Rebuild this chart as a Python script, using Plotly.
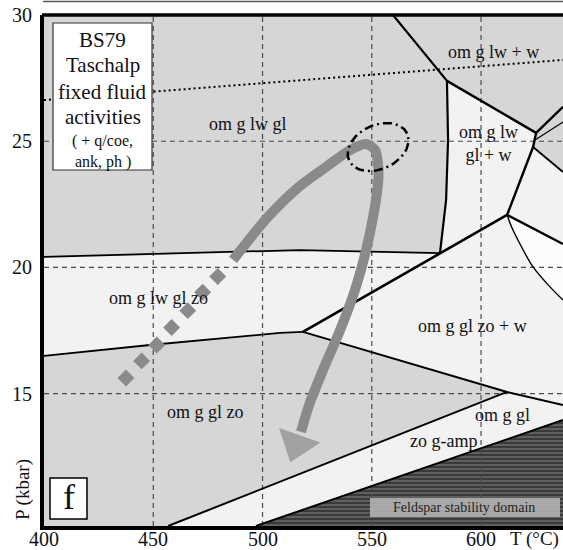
import numpy as np
import plotly.graph_objects as go

FONT = "Liberation Serif, Times New Roman, serif"

# ---------------- axes ----------------
x_ticks = [400, 450, 500, 550, 600]
y_ticks = [15, 20, 25, 30]
T_RANGE = [400, 637.5]
P_RANGE = [9.76, 30]

# ---------------- phase boundaries (T in °C, P in kbar) ----------------
b_top_T = [400, 517.2, 581.2]
b_top_P = [20.42, 20.69, 20.57]
b_lw_T = [559.7, 580.3, 584.4, 584.9, 584.0, 581.2]
b_lw_P = [30.0, 27.82, 27.39, 25.05, 22.67, 20.57]
b_w_T = [584.4, 625.2, 623.8, 611.9]
b_w_P = [27.39, 25.33, 24.77, 22.08]
b_zo_T = [400, 448.5, 508.0, 518.5]
b_zo_P = [16.50, 16.93, 17.41, 17.45]
b_j_T = [518.5, 581.2, 611.9]
b_j_P = [17.45, 20.57, 22.08]
b_gl_T = [518.5, 572.1, 611.9, 637.5]
b_gl_P = [17.45, 16.10, 15.07, 14.55]
b_amp_T = [456.8, 611.9]
b_amp_P = [9.76, 15.07]
b_fsp_T = [497.0, 637.5]
b_fsp_P = [9.76, 13.96]
b_e1_T = [625.2, 637.5]
b_e1_P = [25.33, 26.36]
b_e2_T = [624.7, 637.5]
b_e2_P = [25.05, 25.76]
b_f_T = [623.8, 637.5]
b_f_P = [24.77, 23.78]
b_j2_T = [611.9, 637.5]
b_j2_P = [22.08, 20.93]
b_curve_T = [611.9, 614.2, 618.8, 623.8, 630.7, 637.5]
b_curve_P = [22.08, 21.56, 20.77, 20.02, 19.31, 18.71]
dotted_T = [400, 637.5]
dotted_P = [26.63, 28.22]

# ---------------- P-T path ----------------
path_T = [486.5, 502.5, 517.2, 529.1, 540.0, 547.4, 551.5, 552.9, 552.9, 550.6,
          547.4, 542.3, 535.5, 527.3, 521.3, 517.6]
path_P = [20.30, 22.00, 23.23, 23.98, 24.65, 24.89, 24.65, 24.06, 23.35, 22.00,
          20.69, 19.11, 17.52, 15.86, 14.55, 13.49]
head_T = [519.5, 515.6]
head_P = [13.96, 13.00]
prograde_T = [437.5, 444.7, 451.6, 458.4, 465.8, 472.6, 479.5]
prograde_P = [15.62, 16.30, 16.93, 17.62, 18.29, 19.02, 19.64]

# peak ellipse (centre in data units)
peak_T, peak_P = 552.9, 24.77

# ---------------- labels ----------------
field_labels = ["om g lw gl", "om g lw + w", "om g lw<br>gl + w", "om g lw gl zo",
                "om g gl zo + w", "om g gl zo", "om g gl", "zo g-amp"]
field_T = [493.4, 605.9, 603.2, 452.2, 596.3, 473.7, 609.6, 582.6]
field_P = [25.68, 28.53, 24.93, 18.79, 17.68, 14.28, 14.16, 13.13]

info_lines = ["BS79", "Taschalp", "fixed fluid", "activities", "( + q/coe,", "ank, ph )"]

# pixel scale helpers for layout placement
PLOT_L, PLOT_T, PLOT_W, PLOT_H = 44, 15, 519, 511
def px(x):
    return (x - PLOT_L) / PLOT_W
def py(y):
    return 1 - (y - PLOT_T) / PLOT_H

GRAY = "#d6d6d6"
LIGHT = "#f2f2f2"
WHITE = "#fcfcfc"

fig = go.Figure()

def poly(T, P, color):
    fig.add_trace(go.Scatter(x=T, y=P, mode="lines", fill="toself", fillcolor=color,
                             line=dict(width=0), hoverinfo="skip", showlegend=False))

# region fills
poly([400] + b_lw_T + b_top_T[::-1][1:], [30] + b_lw_P + b_top_P[::-1][1:], GRAY)
poly([b_lw_T[0], 637.5] + b_f_T[::-1] + b_w_T[:2][::-1] + b_lw_T[:2][::-1],
     [b_lw_P[0], 30] + b_f_P[::-1] + b_w_P[:2][::-1] + b_lw_P[:2][::-1], GRAY)
poly(b_zo_T + b_gl_T[1:3] + b_amp_T[::-1] + [400],
     b_zo_P + b_gl_P[1:3] + b_amp_P[::-1] + [P_RANGE[0]], GRAY)
poly(b_j2_T + b_curve_T[::-1], b_j2_P + b_curve_P[::-1], WHITE)

# feldspar domain (hatched)
fig.add_trace(go.Scatter(x=b_fsp_T + [637.5], y=b_fsp_P + [P_RANGE[0]], mode="lines",
                         fill="toself", fillcolor="#3a3a3a",
                         fillpattern=dict(shape="-", bgcolor="#3a3a3a", fgcolor="#8c8c8c",
                                          size=4, solidity=0.45),
                         line=dict(width=0), hoverinfo="skip", showlegend=False))

# dashed grid
for t in x_ticks[1:]:
    fig.add_trace(go.Scatter(x=[t, t], y=P_RANGE, mode="lines",
                             line=dict(color="#4a4a4a", width=1.2, dash="5px,4px"),
                             hoverinfo="skip", showlegend=False))
for p in y_ticks[:-1]:
    fig.add_trace(go.Scatter(x=T_RANGE, y=[p, p], mode="lines",
                             line=dict(color="#4a4a4a", width=1.2, dash="5px,4px"),
                             hoverinfo="skip", showlegend=False))

def bline(T, P, w=2.0, shape="linear"):
    fig.add_trace(go.Scatter(x=T, y=P, mode="lines", line=dict(color="black", width=w, shape=shape),
                             hoverinfo="skip", showlegend=False))

bline(b_top_T, b_top_P, 1.8)
bline(b_lw_T, b_lw_P, 2.2)
bline(b_w_T, b_w_P, 2.4)
bline(b_zo_T, b_zo_P, 1.8)
bline(b_j_T, b_j_P, 2.6)
bline(b_gl_T, b_gl_P, 2.0)
bline(b_amp_T, b_amp_P, 2.0)
bline(b_fsp_T, b_fsp_P, 2.0)
bline(b_e1_T, b_e1_P, 2.4)
bline(b_e2_T, b_e2_P, 1.2)
bline(b_f_T, b_f_P, 1.8)
bline(b_j2_T, b_j2_P, 2.4)
bline(b_curve_T, b_curve_P, 1.4, "spline")

fig.add_trace(go.Scatter(x=dotted_T, y=dotted_P, mode="lines",
                         line=dict(color="black", width=2, dash="2px,3px"),
                         hoverinfo="skip", showlegend=False))

# P-T path
ARROW = "#8a8a8a"
fig.add_trace(go.Scatter(x=path_T, y=path_P, mode="lines",
                         line=dict(color=ARROW, width=10, shape="spline", smoothing=0.8),
                         hoverinfo="skip", showlegend=False))
fig.add_trace(go.Scatter(x=head_T, y=head_P, mode="markers",
                         marker=dict(symbol="triangle-up", size=[0, 38], color=ARROW,
                                     angleref="previous", line=dict(width=0)),
                         hoverinfo="skip", showlegend=False))
fig.add_trace(go.Scatter(x=prograde_T, y=prograde_P, mode="markers",
                         marker=dict(symbol="diamond", size=13, color=ARROW, line=dict(width=0)),
                         hoverinfo="skip", showlegend=False))

# peak ellipse (px semi-axes, rotated)
a_px, b_px, th = 32, 22, np.deg2rad(25)
phi = np.linspace(0, 2 * np.pi, 120)
ex = a_px * np.cos(phi) * np.cos(th) - b_px * np.sin(phi) * np.sin(th)
ey = a_px * np.cos(phi) * np.sin(th) + b_px * np.sin(phi) * np.cos(th)
sx = (T_RANGE[1] - T_RANGE[0]) / PLOT_W
sy = (P_RANGE[1] - P_RANGE[0]) / PLOT_H
fig.add_trace(go.Scatter(x=peak_T + ex * sx, y=peak_P + ey * sy, mode="lines",
                         line=dict(color="black", width=2.5, dash="9px,4px,2px,4px"),
                         hoverinfo="skip", showlegend=False))

annotations = []
for txt, t, p in zip(field_labels, field_T, field_P):
    annotations.append(dict(x=t, y=p, xref="x", yref="y", text=txt, showarrow=False,
                            xanchor="center", yanchor="middle",
                            font=dict(family=FONT, size=18, color="#111")))

# x tick labels (drawn as annotations so they sit where the reference has them)
for t in x_ticks:
    annotations.append(dict(x=t, y=py(538.5), xref="x", yref="paper", text=str(t), showarrow=False,
                            xanchor="center", yanchor="middle",
                            font=dict(family=FONT, size=20, color="#111")))

shapes = [
    dict(type="line", xref="paper", yref="paper", x0=px(42), x1=1.01, y0=1, y1=1,
         line=dict(color="black", width=3.5), layer="above"),
    dict(type="line", xref="paper", yref="paper", x0=px(43), x1=1.01, y0=py(1.5), y1=py(1.5),
         line=dict(color="#555", width=1.5), layer="above"),
    dict(type="rect", xref="paper", yref="paper", x0=px(53), x1=px(152), y0=py(23), y1=py(170),
         fillcolor="white", line=dict(color="#333", width=1.2), layer="above"),
    dict(type="rect", xref="paper", yref="paper", x0=px(50), x1=px(87), y0=py(478), y1=py(519),
         fillcolor="white", line=dict(color="black", width=1.5), layer="above"),
    dict(type="rect", xref="paper", yref="paper", x0=px(370), x1=px(560), y0=py(498), y1=py(517),
         fillcolor="rgba(178,178,178,0.9)", line=dict(width=0), layer="above"),
]

info_y = [40, 65, 92, 117, 141, 162]
info_size = [21, 21, 21, 21, 16, 16]
for txt, yy, sz in zip(info_lines, info_y, info_size):
    annotations.append(dict(x=px(102.5), y=py(yy), xref="paper", yref="paper", text=txt,
                            xanchor="center", yanchor="middle",
                            showarrow=False, font=dict(family=FONT, size=sz, color="#111")))

annotations += [
    dict(x=px(68.5), y=py(497), xref="paper", yref="paper", text="f", showarrow=False,
         xanchor="center", yanchor="middle",
         font=dict(family=FONT, size=36, color="#111")),
    dict(x=px(464), y=py(507.5), xref="paper", yref="paper", text="Feldspar stability domain",
         xanchor="center", yanchor="middle",
         showarrow=False, font=dict(family=FONT, size=14, color="#222")),
    dict(x=px(23), y=py(490), xref="paper", yref="paper", text="P (kbar)", textangle=-90,
         xanchor="center", yanchor="middle",
         showarrow=False, font=dict(family=FONT, size=19, color="#111")),
    dict(x=px(561), y=py(538.5), xref="paper", yref="paper", text="T (°C)", xanchor="right",
         yanchor="middle",
         showarrow=False, font=dict(family=FONT, size=19, color="#111")),
]

fig.update_layout(
    width=563, height=550,
    margin=dict(l=PLOT_L, r=0, t=PLOT_T, b=24, autoexpand=False),
    paper_bgcolor="white", plot_bgcolor=LIGHT,
    showlegend=False,
    xaxis=dict(range=T_RANGE, tickvals=x_ticks, showgrid=False, zeroline=False,
               showline=True, linewidth=4, linecolor="black", ticks="",
               showticklabels=False, automargin=False),
    yaxis=dict(range=P_RANGE, tickvals=y_ticks, showgrid=False, zeroline=False,
               showline=True, linewidth=4, linecolor="black", ticks="",
               automargin=False, ticklabelstandoff=4,
               tickfont=dict(family=FONT, size=20, color="#111")),
    shapes=shapes,
    annotations=annotations,
)

fig.write_html("out.html", config={"displayModeBar": False},
               post_script="document.body.style.margin='0px';document.body.style.overflow='hidden';")
